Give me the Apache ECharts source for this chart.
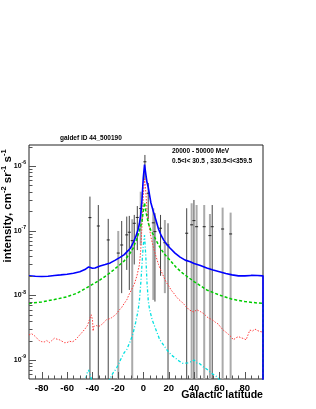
<!DOCTYPE html>
<html><head><meta charset="utf-8">
<script src="https://cdn.jsdelivr.net/npm/echarts@6/dist/echarts.min.js"></script>
<style>html,body{margin:0;padding:0;background:#fff}#c{width:316px;height:409px}</style>
</head><body><div id="c"></div>
<script>
// ---- axis settings / tick labels ----
const X_MIN = -90, X_MAX = 94.3;
const Y_MIN = 5.08e-10, Y_MAX = 2.11e-6;
const xMajorTicks = [-80, -60, -40, -20, 0, 20, 40, 60, 80];
const xMinorTicks = [-85, -75, -70, -65, -55, -50, -45, -35, -30, -25, -15, -10, -5, 5, 10, 15, 25, 30, 35, 45, 50, 55, 65, 70, 75, 85, 90];
const yMajorTicks = [1e-9, 1e-8, 1e-7, 1e-6];
const yMinorTicks = [6e-10, 7e-10, 8e-10, 9e-10, 2e-9, 3e-9, 4e-9, 5e-9, 6e-9, 7e-9, 8e-9, 9e-9,
  2e-8, 3e-8, 4e-8, 5e-8, 6e-8, 7e-8, 8e-8, 9e-8, 2e-7, 3e-7, 4e-7, 5e-7, 6e-7, 7e-7, 8e-7, 9e-7, 2e-6];
const refLevel = 1e-8;

// ---- model curves: [latitude, intensity] ----
const totalCurve = [[-90,2.01e-8],[-85,1.97e-8],[-80,1.95e-8],[-75,1.97e-8],[-70,2.03e-8],[-65,2.07e-8],[-60,2.12e-8],[-55,2.2e-8],[-50,2.32e-8],[-46,2.5e-8],[-43,2.75e-8],[-42,2.65e-8],[-40,2.62e-8],[-38,2.65e-8],[-34,2.85e-8],[-30,3.0e-8],[-26,3.17e-8],[-22,3.5e-8],[-18,3.9e-8],[-15,4.25e-8],[-12,4.9e-8],[-10,5.4e-8],[-8,6.5e-8],[-6,8.0e-8],[-4,1.05e-7],[-3,1.3e-7],[-2,1.75e-7],[-1,3.0e-7],[0,6.5e-7],[1,1.05e-6],[2,7.5e-7],[3,5.5e-7],[4,4.6e-7],[5,3.5e-7],[6,2.7e-7],[8,1.95e-7],[10,1.45e-7],[12,1.06e-7],[14,8.5e-8],[16,7.2e-8],[18,6.3e-8],[21,5.4e-8],[25,4.5e-8],[29,3.9e-8],[33,3.5e-8],[37,3.3e-8],[40,3.1e-8],[45,2.9e-8],[50,2.65e-8],[55,2.47e-8],[60,2.32e-8],[65,2.18e-8],[70,2.07e-8],[75,2.0e-8],[80,2.0e-8],[85,2.03e-8],[90,2.02e-8],[94.3,2.0e-8],[94.3,1e-12]];
const pionCurve = [[-90,7.5e-9],[-80,7.9e-9],[-70,8.6e-9],[-60,9.5e-9],[-52,1.08e-8],[-43,1.36e-8],[-34,1.73e-8],[-26,2.24e-8],[-20,2.8e-8],[-15,3.4e-8],[-10,4.6e-8],[-8,5.3e-8],[-5,7.6e-8],[-3,1.0e-7],[-1,1.4e-7],[0,2.0e-7],[1,2.7e-7],[2,2.0e-7],[4,1.3e-7],[6,1.0e-7],[8,8.6e-8],[12,6.0e-8],[16,4.5e-8],[21,3.5e-8],[26,2.7e-8],[31,2.2e-8],[40,1.63e-8],[50,1.21e-8],[60,1.01e-8],[70,8.7e-9],[80,8.0e-9],[90,7.6e-9],[94.3,7.5e-9],[94.3,1e-12]];
const icCurve = [[-90,2.44e-9],[-88,2.55e-9],[-86,2.4e-9],[-84,2.2e-9],[-82,2.0e-9],[-80,1.92e-9],[-78,1.9e-9],[-76,2.0e-9],[-74,1.86e-9],[-72,2.0e-9],[-70,2.17e-9],[-68,2.1e-9],[-66,2.05e-9],[-64,1.95e-9],[-62,1.85e-9],[-60,1.86e-9],[-58,1.95e-9],[-56,1.9e-9],[-54,2.0e-9],[-52,2.2e-9],[-50,2.44e-9],[-48,2.7e-9],[-46,3.0e-9],[-44,3.4e-9],[-42,4.4e-9],[-41,5.0e-9],[-40,4.2e-9],[-39.5,2.8e-9],[-39,3.3e-9],[-37,3.4e-9],[-35,3.3e-9],[-33,3.5e-9],[-31,3.8e-9],[-29,4.2e-9],[-27,4.3e-9],[-25,4.5e-9],[-23,4.8e-9],[-21,5.2e-9],[-19,5.9e-9],[-17,6.5e-9],[-15,7.5e-9],[-13,8.5e-9],[-11,1.05e-8],[-9,1.25e-8],[-7,1.5e-8],[-5,2.0e-8],[-3,3.0e-8],[-2,5.0e-8],[-1,1.2e-7],[0,3.5e-7],[1,6.3e-7],[2,4.0e-7],[3,2.0e-7],[4,1.4e-7],[6,8.0e-8],[8,5.5e-8],[10,4.0e-8],[12,3.0e-8],[14,2.4e-8],[16,1.95e-8],[18,1.6e-8],[20,1.4e-8],[22,1.2e-8],[24,1.08e-8],[26,9.5e-9],[28,8.6e-9],[30,8.0e-9],[32,7.3e-9],[34,6.6e-9],[36,6.0e-9],[38,5.7e-9],[40,5.5e-9],[42,6.0e-9],[43.5,6.3e-9],[45,5.6e-9],[47,5.3e-9],[49,4.9e-9],[51,4.5e-9],[53,4.3e-9],[55,4.1e-9],[57,3.8e-9],[59,3.6e-9],[61,3.2e-9],[63,2.9e-9],[65,2.7e-9],[67,2.5e-9],[69,2.3e-9],[71,2.05e-9],[73,2.2e-9],[75,2.3e-9],[77,2.2e-9],[79,2.15e-9],[81,2.05e-9],[83,2.6e-9],[84,2.9e-9],[86,2.8e-9],[88,3.0e-9],[90,2.85e-9],[92,2.75e-9],[94.3,2.7e-9],[94.3,1e-12]];
const srcCurve = [[-48,3.0e-10],[-46,4.5e-10],[-44,6.5e-10],[-43,7.0e-10],[-42,6.0e-10],[-40,4.5e-10],[-38,3.0e-10],[-30,3.0e-10],[-28,4.5e-10],[-26,5.2e-10],[-24,6.2e-10],[-21,7.5e-10],[-18,1.0e-9],[-15,1.3e-9],[-13,1.45e-9],[-10,2.0e-9],[-8,2.6e-9],[-6,3.8e-9],[-4,5.9e-9],[-3,8.5e-9],[-2,1.5e-8],[-1,3.0e-8],[0,6.0e-8],[1,8.5e-8],[2,4.0e-8],[3,1.5e-8],[4,8.0e-9],[5,6.0e-9],[7,4.2e-9],[9,3.3e-9],[11,2.6e-9],[13,2.05e-9],[16,1.7e-9],[19,1.4e-9],[22,1.2e-9],[25,1.08e-9],[28,9.7e-10],[31,8.9e-10],[35,9.0e-10],[38,9.5e-10],[40,1.0e-9],[42,9.0e-10],[44,8.9e-10],[47,7.9e-10],[51,7.0e-10],[54,6.2e-10],[58,5.5e-10],[61,4.8e-10],[64,3.0e-10]];

// ---- data points: [latitude, value, lower, upper] ----
const dataBlack = [[-42,1.59e-7,1e-10,3.36e-7],[-35.4,1.18e-7,1e-10,2.49e-7],[-27.6,7.18e-8,1e-10,1.52e-7],[-17,6.0e-8,1.08e-8,1.41e-7],[-13,8.6e-8,2.47e-8,1.65e-7],[-11,9.45e-8,1.21e-8,1.69e-7],[-7.1,1.3e-7,3.0e-8,1.75e-7],[-4.7,1.6e-7,5.0e-8,2.4e-7],[1.3,1.16e-6,6.0e-7,1.48e-6],[3.9,3.79e-7,1.5e-7,5.46e-7],[9.2,9.66e-8,8.0e-9,1.86e-7],[13.6,1.09e-7,2.0e-8,1.75e-7],[19.5,6.0e-8,1e-10,1.3e-7],[34.2,9.12e-8,1e-10,2.22e-7],[39.9,1.43e-7,1e-10,2.98e-7],[54.3,1.15e-7,1e-10,2.49e-7]];
const dataGray = [[-19.7,4.5e-8,1e-10,9.89e-8],[-8.7,7.0e-8,1e-10,1.5e-7],[-2,2.2e-7,6.0e-8,4.0e-7],[7.9,1.32e-7,8.49e-9,2.22e-7],[17,6.5e-8,1.08e-8,1.46e-7],[38.1,1.23e-7,1e-10,2.65e-7],[42,1.15e-7,1e-10,2.49e-7],[48,1.15e-7,1e-10,2.49e-7],[52.5,8.38e-8,1e-10,1.81e-7],[62.5,1.06e-7,1e-10,2.27e-7],[68.8,8.89e-8,1e-10,1.9e-7]];

const FONT = '"Liberation Sans", Arial, sans-serif';
const chart = echarts.init(document.getElementById('c'), null, {renderer: 'canvas'});

function errRender(color, width) {
  return function (params, api) {
    const cs = params.coordSys;
    const x = api.value(0), c = api.value(1), lo = api.value(2), hi = api.value(3);
    const pc = api.coord([x, c]);
    const ph = api.coord([x, hi]);
    const pl = api.coord([x, lo]);
    const top = Math.max(cs.y, ph[1]);
    const bot = Math.min(cs.y + cs.height, pl[1]);
    return {type: 'group', children: [
      {type: 'line', shape: {x1: pc[0], y1: top, x2: pc[0], y2: bot}, style: {stroke: color, lineWidth: width}},
      {type: 'line', shape: {x1: pc[0] - 1.5, y1: pc[1], x2: pc[0] + 1.5, y2: pc[1]}, style: {stroke: '#222', lineWidth: 1}}
    ]};
  };
}
function tickRender(len, axis) {
  return function (params, api) {
    const cs = params.coordSys;
    const p = api.coord([api.value(0), api.value(1)]);
    if (axis === 'x') {
      const yb = cs.y + cs.height;
      return {type: 'line', shape: {x1: Math.round(p[0]) + 0.5, y1: yb, x2: Math.round(p[0]) + 0.5, y2: yb - len}, style: {stroke: '#555', lineWidth: 1}};
    }
    return {type: 'line', shape: {x1: cs.x, y1: Math.round(p[1]) + 0.5, x2: cs.x + len, y2: Math.round(p[1]) + 0.5}, style: {stroke: '#555', lineWidth: 1}};
  };
}

const option = {
  animation: false,
  backgroundColor: '#fff',
  grid: {left: 29, top: 145, width: 234, height: 234, show: true, borderColor: '#222', borderWidth: 1, backgroundColor: 'transparent'},
  xAxis: {
    type: 'value', min: X_MIN, max: X_MAX, interval: 10,
    axisLine: {show: false}, axisTick: {show: false}, splitLine: {show: false},
    axisLabel: {
      show: true, margin: 4, color: '#000', fontFamily: FONT, fontWeight: 'bold', fontSize: 9.5,
      showMinLabel: false, showMaxLabel: false,
      formatter: v => xMajorTicks.indexOf(Math.round(v)) >= 0 && Math.abs(v - Math.round(v)) < 1e-6 ? String(Math.round(v)) : ''
    }
  },
  yAxis: {
    type: 'log', logBase: 10, min: Y_MIN, max: Y_MAX,
    axisLine: {show: false}, axisTick: {show: false}, splitLine: {show: false},
    axisLabel: {
      show: true, margin: 3, color: '#000', fontFamily: FONT, fontWeight: 'bold',
      showMinLabel: false, showMaxLabel: false,
      formatter: function (v) {
        const e = Math.log10(v);
        if (Math.abs(e - Math.round(e)) > 1e-6) return '';
        return '{b|10}{s|' + Math.round(e) + '}';
      },
      rich: {
        b: {fontFamily: FONT, fontWeight: 'bold', fontSize: 7, color: '#000'},
        s: {fontFamily: FONT, fontWeight: 'bold', fontSize: 5, color: '#000', padding: [0, 0, 6, 0]}
      }
    }
  },
  series: [
    {type: 'custom', data: dataGray, renderItem: errRender('#aaaaaa', 2), z: 2, silent: true},
    {type: 'custom', data: dataBlack, renderItem: errRender('#444444', 1), z: 3, silent: true},
    {type: 'line', data: srcCurve, showSymbol: false, lineStyle: {color: '#00e0e0', width: 1.3, type: [3, 2, 1, 2]}, z: 4, silent: true},
    {type: 'line', data: icCurve, showSymbol: false, lineStyle: {color: '#ff3b3b', width: 1, type: [1.5, 1.5]}, z: 4, silent: true},
    {type: 'line', data: pionCurve, showSymbol: false, lineStyle: {color: '#00cc00', width: 1.5, type: [3, 2]}, z: 4, silent: true},
    {type: 'line', data: totalCurve, showSymbol: false, lineStyle: {color: '#0000ff', width: 1.6}, z: 5, silent: true,
      markLine: {silent: true, symbol: 'none', label: {show: false}, lineStyle: {color: '#222', width: 1, type: 'solid'}, data: [{yAxis: refLevel}]}},
    {type: 'custom', data: xMajorTicks.map(v => [v, Y_MIN]), renderItem: tickRender(7, 'x'), z: 6, silent: true},
    {type: 'custom', data: xMinorTicks.map(v => [v, Y_MIN]), renderItem: tickRender(3.5, 'x'), z: 6, silent: true},
    {type: 'custom', data: yMajorTicks.map(v => [X_MIN, v]), renderItem: tickRender(7, 'y'), z: 6, silent: true},
    {type: 'custom', data: yMinorTicks.map(v => [X_MIN, v]), renderItem: tickRender(3.5, 'y'), z: 6, silent: true}
  ],
  graphic: [
    {type: 'text', left: 60, top: 135, style: {text: 'galdef ID 44_500190', font: 'bold 6.5px ' + FONT, fill: '#000'}},
    {type: 'text', left: 172, top: 147.5, style: {text: '20000 - 50000 MeV', font: 'bold 6.5px ' + FONT, fill: '#000'}},
    {type: 'text', left: 172, top: 157.5, style: {text: '0.5<l< 30.5 , 330.5<l<359.5', font: 'bold 6.5px ' + FONT, fill: '#000'}},
    {type: 'text', right: 316 - 263, top: 390, style: {text: 'Galactic latitude', font: 'bold 10.6px ' + FONT, fill: '#000'}},
    {type: 'text', x: 8, y: 206, rotation: Math.PI / 2, style: {
      text: '{a|intensity, cm}{s|-2}{a| sr}{s|-1}{a| s}{s|-1}', align: 'center', verticalAlign: 'middle',
      rich: {
        a: {fontFamily: FONT, fontWeight: 'bold', fontSize: 11.5, fill: '#000'},
        s: {fontFamily: FONT, fontWeight: 'bold', fontSize: 7.5, fill: '#000', padding: [0, 0, 9, 0]}
      }}}
  ]
};
chart.setOption(option);
</script></body></html>
